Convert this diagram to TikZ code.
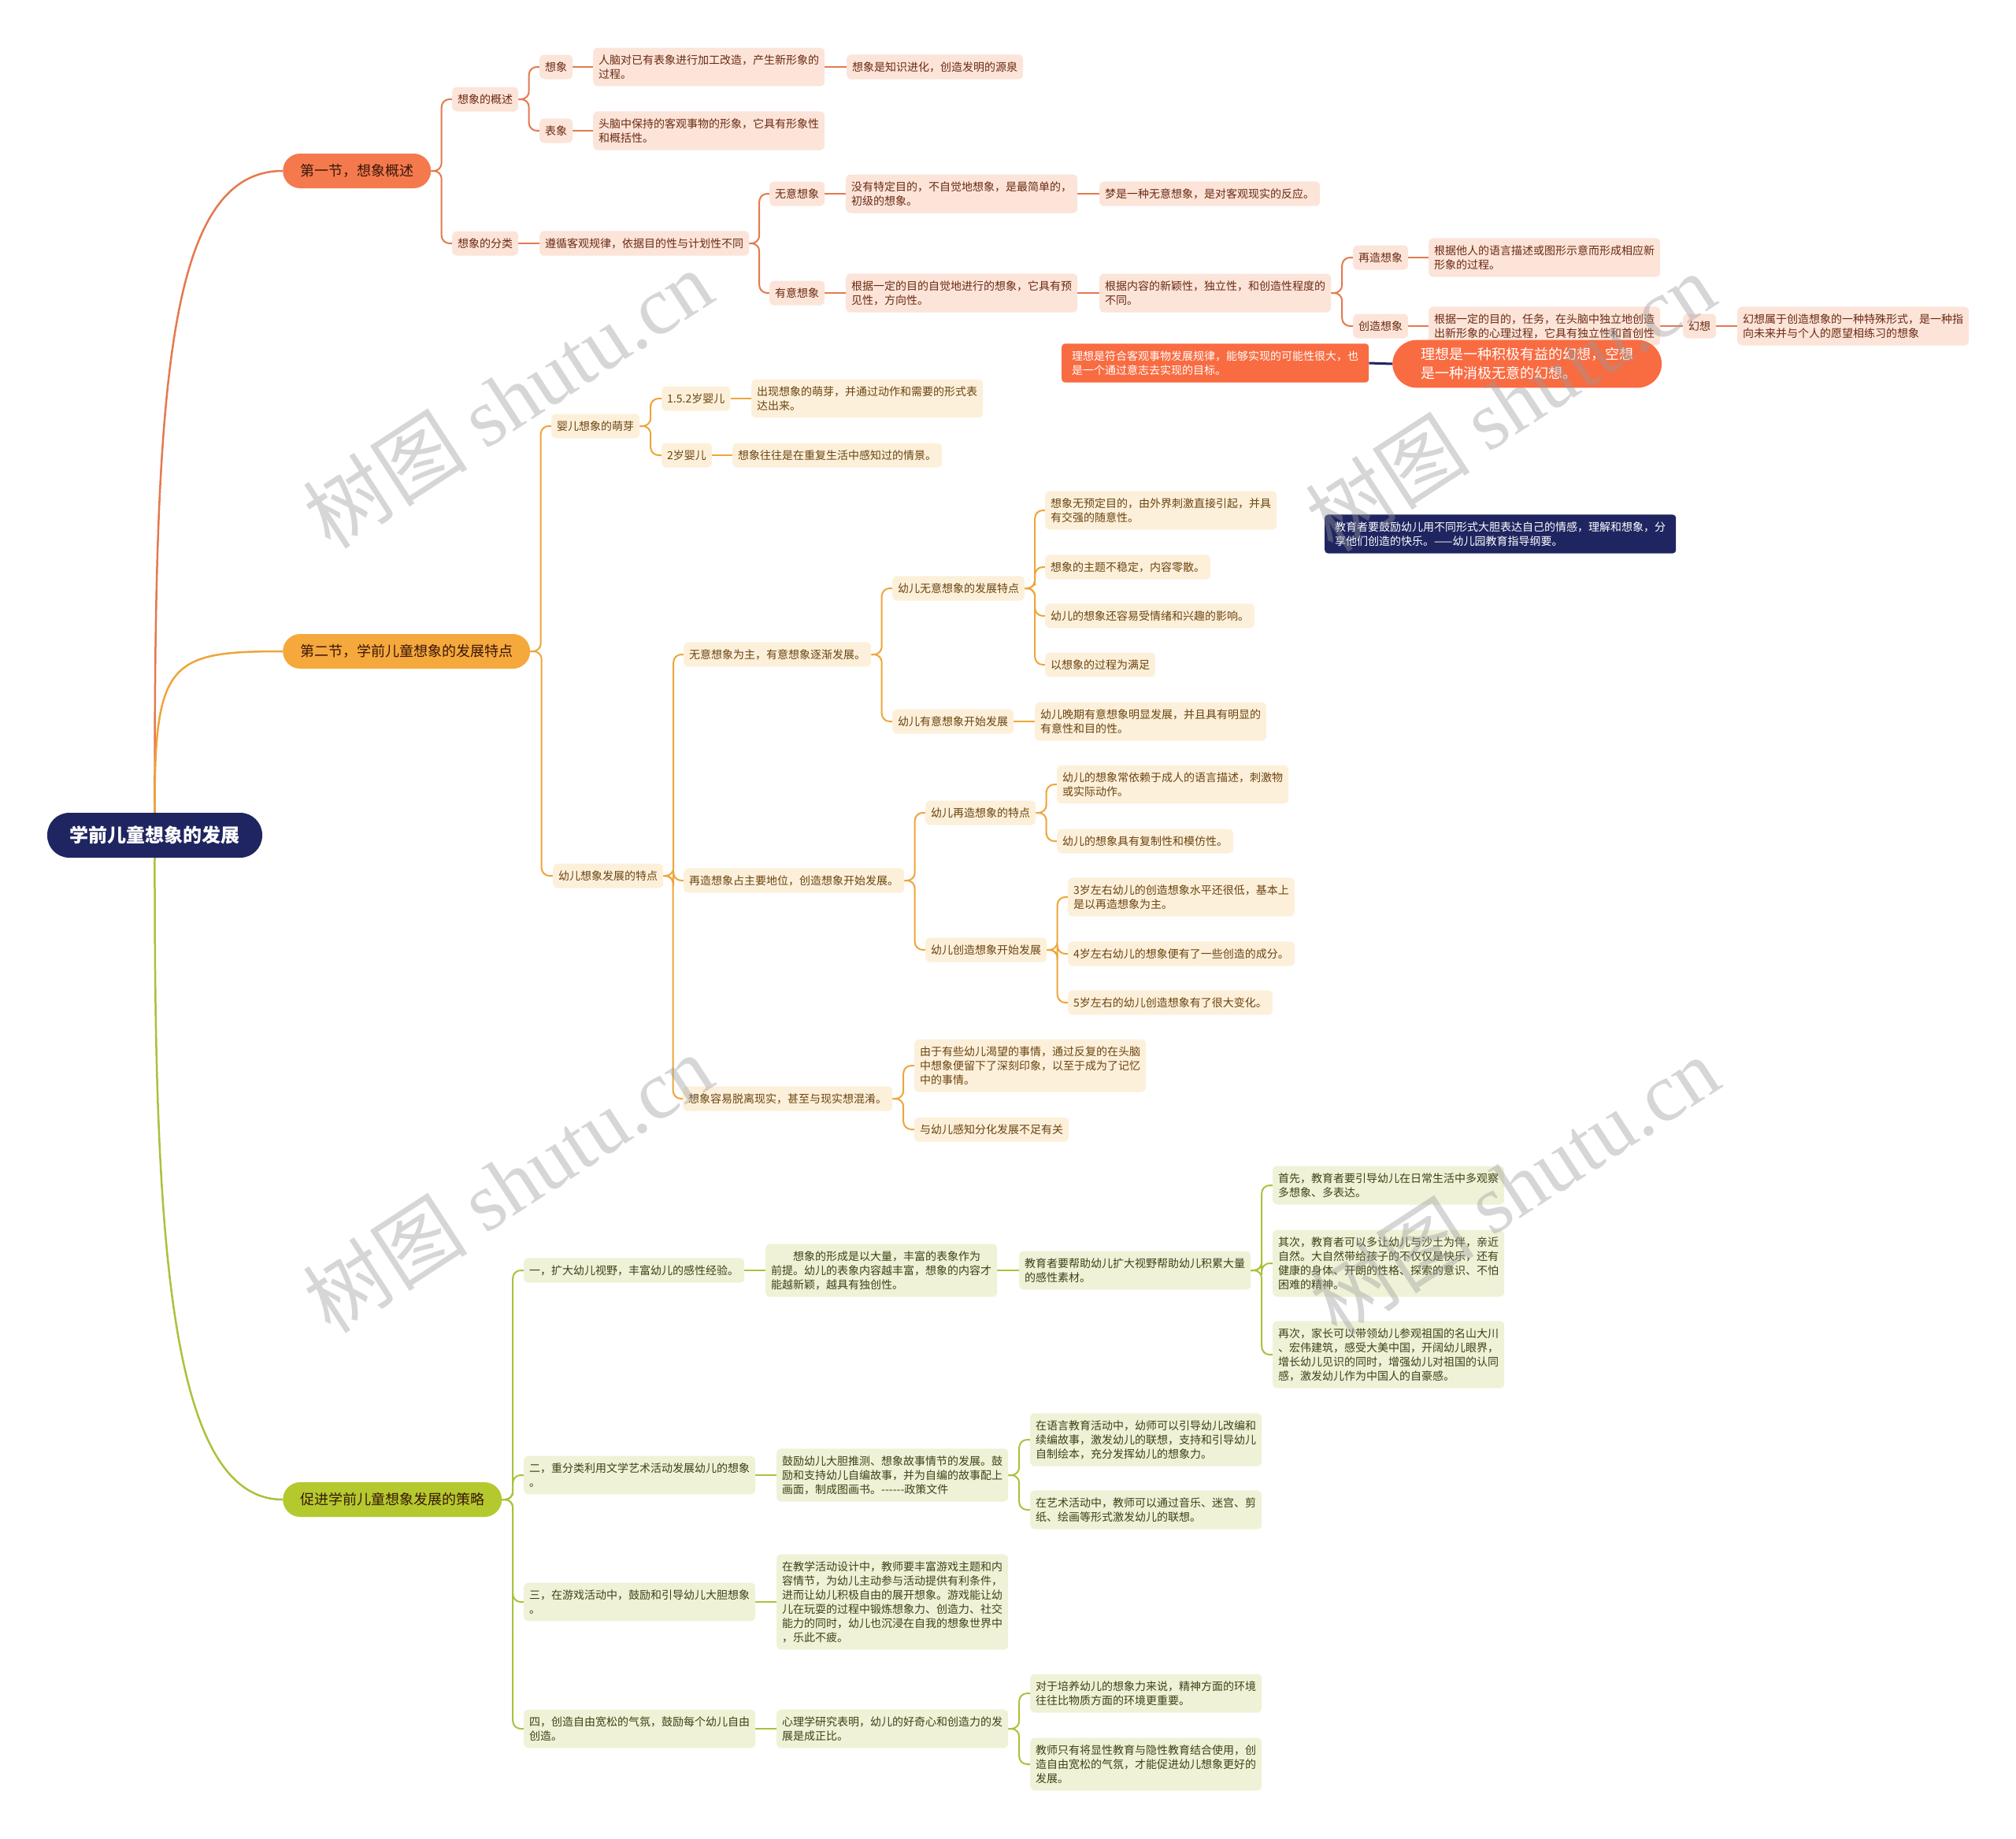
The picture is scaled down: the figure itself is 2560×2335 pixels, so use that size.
\documentclass[tikz,border=0pt]{standalone}
\usepackage{fontspec}
\setmainfont{Noto Sans CJK SC}
\newfontfamily\wmfont{Liberation Serif}
\usetikzlibrary{calc}
\definecolor{rootC}{HTML}{1F2560}
\definecolor{aHead}{HTML}{F47A4E}
\definecolor{aFill}{HTML}{FCE4D9}
\definecolor{aText}{HTML}{6B2A12}
\definecolor{aLine}{HTML}{E4794F}
\definecolor{bHead}{HTML}{F5A83C}
\definecolor{bFill}{HTML}{FDF0DA}
\definecolor{bText}{HTML}{6A4410}
\definecolor{bLine}{HTML}{EEA53A}
\definecolor{cHead}{HTML}{B4C92E}
\definecolor{cFill}{HTML}{EFF2D7}
\definecolor{cText}{HTML}{3F4116}
\definecolor{cLine}{HTML}{A9C23B}
\definecolor{idealC}{HTML}{F96B41}
\definecolor{headText}{HTML}{3A1608}
\pgfdeclarelayer{bg}
\pgfsetlayers{bg,main}
\newcommand\lnk[3]{\draw[#1] (#2.east) -| ($(#2.east)!.5!(#3.west)$) |- (#3.west);}
\newcommand\slnk[3]{\draw[#1] (#2.east) -- (#3.west);}
\tikzset{
  x=1pt, y=-1pt,
  sub/.style={rounded corners=6pt, inner xsep=7pt, inner ysep=9pt, minimum height=31pt,
    align=left, anchor=west, font=\fontsize{14}{18}\selectfont},
  nA/.style={sub, fill=aFill, text=aText},
  nB/.style={sub, fill=bFill, text=bText},
  nC/.style={sub, fill=cFill, text=cText},
  head/.style={rounded corners=22pt, inner xsep=22pt, minimum height=44pt, anchor=west,
    text=headText, font=\fontsize{18}{22}\selectfont},
  hA/.style={head, fill=aHead},
  hB/.style={head, fill=bHead},
  hC/.style={head, fill=cHead},
  rootst/.style={rounded corners=28pt, fill=rootC, text=white, minimum width=273pt,
    minimum height=57pt, font=\fontsize{24}{28}\selectfont\bfseries},
  darkst/.style={sub, fill=rootC, text=white, rounded corners=4pt, inner xsep=13pt},
  idealbox/.style={sub, fill=idealC, text=white, rounded corners=4pt, inner xsep=13pt},
  bubst/.style={rounded corners=31pt, fill=idealC, text=white, inner xsep=36pt, inner ysep=10pt,
    align=left, anchor=west, font=\fontsize{18}{24}\selectfont},
  eA/.style={draw=aLine, line width=2pt, rounded corners=10pt},
  eB/.style={draw=bLine, line width=2pt, rounded corners=10pt},
  eC/.style={draw=cLine, line width=2pt, rounded corners=10pt},
  wm/.style={rotate=33, text=black!40, opacity=.4, font=\fontsize{105}{105}\selectfont}
}
\begin{document}
\begin{tikzpicture}
\useasboundingbox (0,0) rectangle (2560,2335);
% root and headers
\node[rootst] (root) at (196.5,1060.5) {学前儿童想象的发展};
\node[hA] (s1) at (359,217) {第一节，想象概述};
\node[hB] (s2) at (359,827) {第二节，学前儿童想象的发展特点};
\node[hC] (s3) at (359,1904) {促进学前儿童想象发展的策略};

% ---------- section 1 ----------
\node[nA] (a1) at (574,126) {想象的概述};
\node[nA] (a11) at (685,85) {想象};
\node[nA] (a111) at (753,85) {人脑对已有表象进行加工改造，产生新形象的\\过程。};
\node[nA] (a1111) at (1075,85) {想象是知识进化，创造发明的源泉};
\node[nA] (a12) at (685,166) {表象};
\node[nA] (a121) at (753,166) {头脑中保持的客观事物的形象，它具有形象性\\和概括性。};
\node[nA] (a2) at (574,309) {想象的分类};
\node[nA] (a21) at (685,309) {遵循客观规律，依据目的性与计划性不同};
\node[nA] (a211) at (977,246) {无意想象};
\node[nA] (a2111) at (1074,246) {没有特定目的，不自觉地想象，是最简单的，\\初级的想象。};
\node[nA] (a21111) at (1396,246) {梦是一种无意想象，是对客观现实的反应。};
\node[nA] (a212) at (977,372) {有意想象};
\node[nA] (a2121) at (1074,372) {根据一定的目的自觉地进行的想象，它具有预\\见性，方向性。};
\node[nA] (a21211) at (1396,372) {根据内容的新颖性，独立性，和创造性程度的\\不同。};
\node[nA] (zz) at (1718,327) {再造想象};
\node[nA] (zz1) at (1814,327) {根据他人的语言描述或图形示意而形成相应新\\形象的过程。};
\node[nA] (cz) at (1718,414) {创造想象};
\node[nA] (cz1) at (1814,414) {根据一定的目的，任务，在头脑中独立地创造\\出新形象的心理过程，它具有独立性和首创性};
\node[nA] (hx) at (2137,414) {幻想};
\node[nA] (hx1) at (2206,414) {幻想属于创造想象的一种特殊形式，是一种指\\向未来并与个人的愿望相练习的想象};
\node[idealbox] (ib) at (1348,461) {理想是符合客观事物发展规律，能够实现的可能性很大，也\\是一个通过意志去实现的目标。};
\node[bubst] (bub) at (1768,462) {理想是一种积极有益的幻想，空想\\是一种消极无意的幻想。};

% ---------- section 2 ----------
\node[nB] (b1) at (700,541) {婴儿想象的萌芽};
\node[nB] (b11) at (840,506) {1.5.2岁婴儿};
\node[nB] (b111) at (954,506) {出现想象的萌芽，并通过动作和需要的形式表\\达出来。};
\node[nB] (b12) at (840,578) {2岁婴儿};
\node[nB] (b121) at (930,578) {想象往往是在重复生活中感知过的情景。};
\node[nB] (b2) at (702,1112) {幼儿想象发展的特点};
\node[nB] (b21) at (868,831) {无意想象为主，有意想象逐渐发展。};
\node[nB] (b211) at (1133,747) {幼儿无意想象的发展特点};
\node[nB] (b2111) at (1327,648) {想象无预定目的，由外界刺激直接引起，并具\\有交强的随意性。};
\node[nB] (b2112) at (1327,720) {想象的主题不稳定，内容零散。};
\node[nB] (b2113) at (1327,782) {幼儿的想象还容易受情绪和兴趣的影响。};
\node[nB] (b2114) at (1327,844) {以想象的过程为满足};
\node[nB] (b212) at (1133,916) {幼儿有意想象开始发展};
\node[nB] (b2121) at (1314,916) {幼儿晚期有意想象明显发展，并且具有明显的\\有意性和目的性。};
\node[nB] (b22) at (868,1118) {再造想象占主要地位，创造想象开始发展。};
\node[nB] (b221) at (1175,1032) {幼儿再造想象的特点};
\node[nB] (b2211) at (1342,996) {幼儿的想象常依赖于成人的语言描述，刺激物\\或实际动作。};
\node[nB] (b2212) at (1342,1068) {幼儿的想象具有复制性和模仿性。};
\node[nB] (b222) at (1175,1206) {幼儿创造想象开始发展};
\node[nB] (b2221) at (1356,1139) {3岁左右幼儿的创造想象水平还很低，基本上\\是以再造想象为主。};
\node[nB] (b2222) at (1356,1211) {4岁左右幼儿的想象便有了一些创造的成分。};
\node[nB] (b2223) at (1356,1273) {5岁左右的幼儿创造想象有了很大变化。};
\node[nB] (b23) at (867,1395) {想象容易脱离现实，甚至与现实想混淆。};
\node[nB] (b231) at (1161,1353) {由于有些幼儿渴望的事情，通过反复的在头脑\\中想象便留下了深刻印象，以至于成为了记忆\\中的事情。};
\node[nB] (b232) at (1161,1434) {与幼儿感知分化发展不足有关};
\node[darkst] (edu) at (1682,678) {教育者要鼓励幼儿用不同形式大胆表达自己的情感，理解和想象，分\\享他们创造的快乐。——幼儿园教育指导纲要。};

% ---------- section 3 ----------
\node[nC] (c1) at (665,1613) {一，扩大幼儿视野，丰富幼儿的感性经验。};
\node[nC] (c11) at (972,1613) {\hspace*{2em}想象的形成是以大量，丰富的表象作为\\前提。幼儿的表象内容越丰富，想象的内容才\\能越新颖，越具有独创性。};
\node[nC] (c111) at (1294,1613) {教育者要帮助幼儿扩大视野帮助幼儿积累大量\\的感性素材。};
\node[nC] (c1111) at (1616,1505) {首先，教育者要引导幼儿在日常生活中多观察\\多想象、多表达。};
\node[nC] (c1112) at (1616,1604) {其次，教育者可以多让幼儿与沙土为伴，亲近\\自然。大自然带给孩子的不仅仅是快乐，还有\\健康的身体、开朗的性格、探索的意识、不怕\\困难的精神。};
\node[nC] (c1113) at (1616,1720) {再次，家长可以带领幼儿参观祖国的名山大川\\、宏伟建筑，感受大美中国，开阔幼儿眼界，\\增长幼儿见识的同时，增强幼儿对祖国的认同\\感，激发幼儿作为中国人的自豪感。};
\node[nC] (c2) at (665,1873) {二，重分类利用文学艺术活动发展幼儿的想象\\。};
\node[nC] (c21) at (986,1873) {鼓励幼儿大胆推测、想象故事情节的发展。鼓\\励和支持幼儿自编故事，并为自编的故事配上\\画面，制成图画书。{-}{-}{-}{-}{-}{-}政策文件};
\node[nC] (c211) at (1308,1828) {在语言教育活动中，幼师可以引导幼儿改编和\\续编故事，激发幼儿的联想，支持和引导幼儿\\自制绘本，充分发挥幼儿的想象力。};
\node[nC] (c212) at (1308,1917) {在艺术活动中，教师可以通过音乐、迷宫、剪\\纸、绘画等形式激发幼儿的联想。};
\node[nC] (c3) at (665,2034) {三，在游戏活动中，鼓励和引导幼儿大胆想象\\。};
\node[nC] (c31) at (986,2034) {在教学活动设计中，教师要丰富游戏主题和内\\容情节，为幼儿主动参与活动提供有利条件，\\进而让幼儿积极自由的展开想象。游戏能让幼\\儿在玩耍的过程中锻炼想象力、创造力、社交\\能力的同时，幼儿也沉浸在自我的想象世界中\\，乐此不疲。};
\node[nC] (c4) at (665,2195) {四，创造自由宽松的气氛，鼓励每个幼儿自由\\创造。};
\node[nC] (c41) at (986,2195) {心理学研究表明，幼儿的好奇心和创造力的发\\展是成正比。};
\node[nC] (c411) at (1308,2150) {对于培养幼儿的想象力来说，精神方面的环境\\往往比物质方面的环境更重要。};
\node[nC] (c412) at (1308,2240) {教师只有将显性教育与隐性教育结合使用，创\\造自由宽松的气氛，才能促进幼儿想象更好的\\发展。};

\begin{pgfonlayer}{bg}
% root curves
\draw[aLine, line width=2.5pt] (root.north) .. controls (196,500) and (210,217) .. (s1.west);
\draw[bLine, line width=2.5pt] (root.north) .. controls (196,840) and (215,827) .. (s2.west);
\draw[cLine, line width=2.5pt] (root.south) .. controls (196,1560) and (212,1904) .. (s3.west);
% section 1
\lnk{eA}{s1}{a1} \lnk{eA}{s1}{a2}
\lnk{eA}{a1}{a11} \lnk{eA}{a1}{a12}
\slnk{eA}{a11}{a111} \slnk{eA}{a111}{a1111} \slnk{eA}{a12}{a121}
\slnk{eA}{a2}{a21}
\lnk{eA}{a21}{a211} \lnk{eA}{a21}{a212}
\slnk{eA}{a211}{a2111} \slnk{eA}{a2111}{a21111}
\slnk{eA}{a212}{a2121} \slnk{eA}{a2121}{a21211}
\lnk{eA}{a21211}{zz} \lnk{eA}{a21211}{cz}
\slnk{eA}{zz}{zz1} \slnk{eA}{cz}{cz1} \slnk{eA}{cz1}{hx} \slnk{eA}{hx}{hx1}
\draw[rootC, line width=3pt] (ib.east) -- (bub.west);
% section 2
\lnk{eB}{s2}{b1} \lnk{eB}{s2}{b2}
\lnk{eB}{b1}{b11} \lnk{eB}{b1}{b12}
\slnk{eB}{b11}{b111} \slnk{eB}{b12}{b121}
\lnk{eB}{b2}{b21} \lnk{eB}{b2}{b22} \lnk{eB}{b2}{b23}
\lnk{eB}{b21}{b211} \lnk{eB}{b21}{b212}
\lnk{eB}{b211}{b2111} \lnk{eB}{b211}{b2112} \lnk{eB}{b211}{b2113} \lnk{eB}{b211}{b2114}
\slnk{eB}{b212}{b2121}
\lnk{eB}{b22}{b221} \lnk{eB}{b22}{b222}
\lnk{eB}{b221}{b2211} \lnk{eB}{b221}{b2212}
\lnk{eB}{b222}{b2221} \lnk{eB}{b222}{b2222} \lnk{eB}{b222}{b2223}
\lnk{eB}{b23}{b231} \lnk{eB}{b23}{b232}
% section 3
\lnk{eC}{s3}{c1} \lnk{eC}{s3}{c2} \lnk{eC}{s3}{c3} \lnk{eC}{s3}{c4}
\slnk{eC}{c1}{c11} \slnk{eC}{c11}{c111}
\lnk{eC}{c111}{c1111} \lnk{eC}{c111}{c1112} \lnk{eC}{c111}{c1113}
\slnk{eC}{c2}{c21}
\lnk{eC}{c21}{c211} \lnk{eC}{c21}{c212}
\slnk{eC}{c3}{c31}
\slnk{eC}{c4}{c41}
\lnk{eC}{c41}{c411} \lnk{eC}{c41}{c412}
\end{pgfonlayer}

% watermarks
\node[wm] (wm1) at (645,506) {树图 {\wmfont shutu.cn}};
\node[wm] (wm2) at (1918,510) {树图 {\wmfont shutu.cn}};
\node[wm] (wm3) at (645,1502) {树图 {\wmfont shutu.cn}};
\node[wm] (wm4) at (1923,1505) {树图 {\wmfont shutu.cn}};
\end{tikzpicture}
\end{document}
